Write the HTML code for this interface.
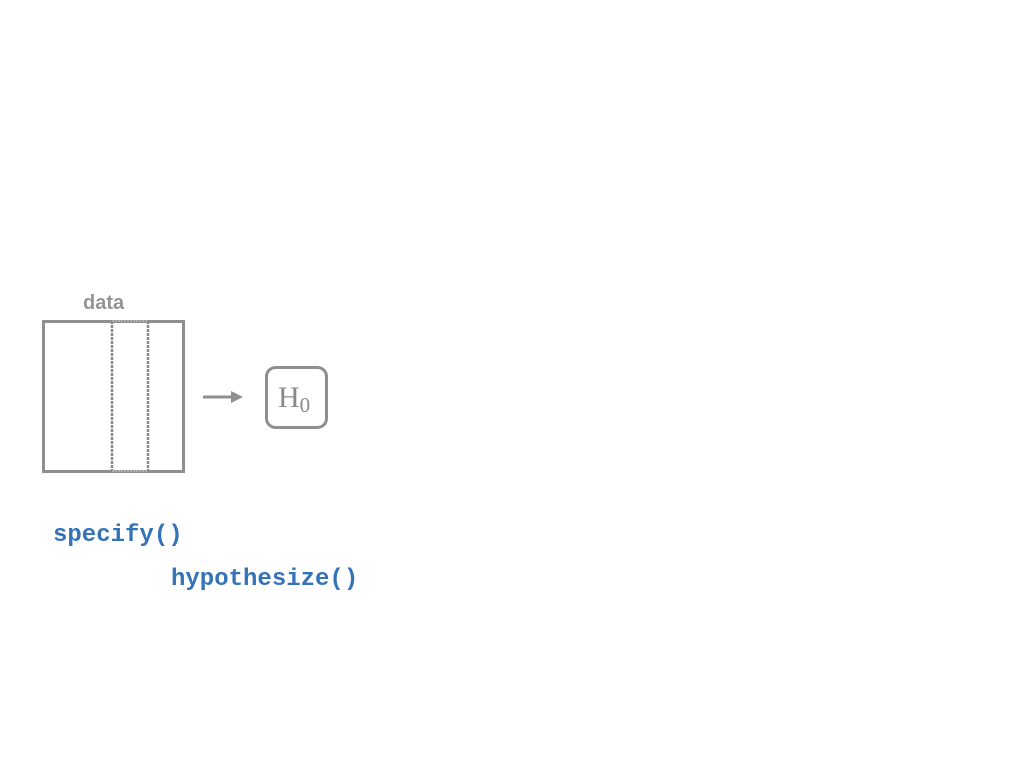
<!DOCTYPE html>
<html><head><meta charset="utf-8"><style>
html,body{margin:0;padding:0;background:#fff;width:1024px;height:768px;overflow:hidden;position:relative}
.t{position:absolute;white-space:nowrap}
</style></head><body>
<svg width="1024" height="768" style="position:absolute;left:0;top:0">
<rect x="43.5" y="321.5" width="140" height="150" fill="none" stroke="#8f8f8f" stroke-width="3"/>
<line x1="112" y1="321" x2="112" y2="472" stroke="#8a8a8a" stroke-width="2.5" stroke-dasharray="3 1"/>
<line x1="148" y1="321" x2="148" y2="472" stroke="#8a8a8a" stroke-width="2.5" stroke-dasharray="3 1"/>
<line x1="112" y1="321" x2="148" y2="321" stroke="#bbb" stroke-width="1.5" stroke-dasharray="2 1"/>
<line x1="112" y1="471" x2="148" y2="471" stroke="#bbb" stroke-width="1.5" stroke-dasharray="2 1"/>
<line x1="203" y1="397" x2="232" y2="397" stroke="#8f8f8f" stroke-width="3"/>
<polygon points="231,391 243,397 231,403" fill="#8f8f8f"/>
<rect x="266.5" y="367.5" width="60" height="60" rx="9" fill="none" stroke="#8f8f8f" stroke-width="3"/>
<text x="278" y="407" font-family="Liberation Serif,serif" font-size="30" fill="#8a8a8a">H<tspan font-size="21" dy="5">0</tspan></text>
</svg>
<div class="t" style="left:83px;top:292px;font:bold 20px 'Liberation Sans',sans-serif;color:#949494">data</div>
<div class="t" style="left:53px;top:522px;font:bold 24px 'Liberation Mono',monospace;color:#3573b9">specify()</div>
<div class="t" style="left:171px;top:566px;font:bold 24px 'Liberation Mono',monospace;color:#3573b9">hypothesize()</div>
</body></html>
